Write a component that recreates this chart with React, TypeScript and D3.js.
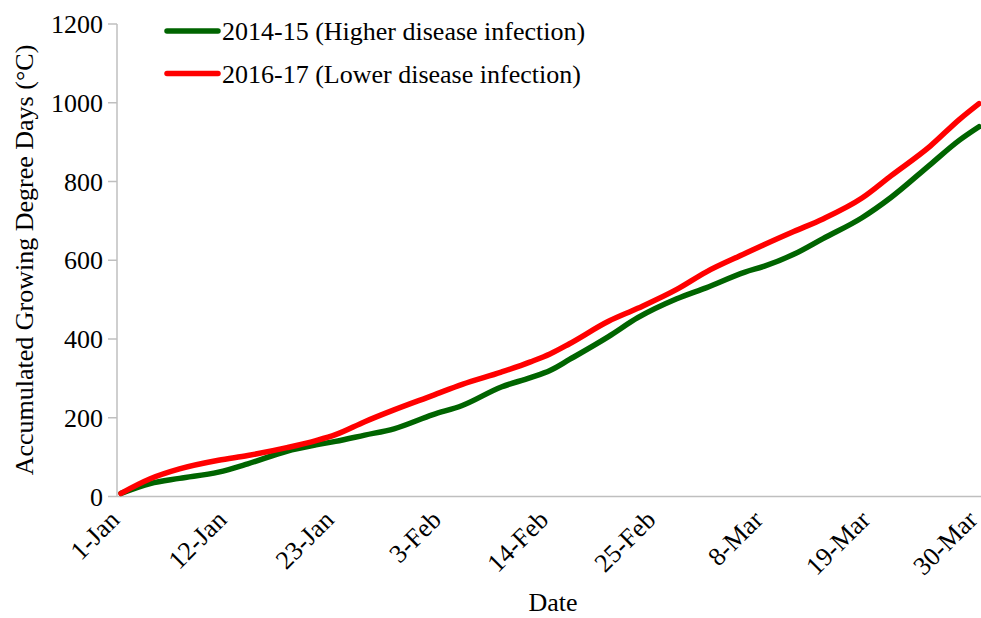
import React from "react";
import * as d3 from "d3";

// Day offsets from 1 January at which the accumulated GDD values were sampled
const sampleDays = [0, 3, 6, 10, 13, 17, 20, 22, 25, 28, 32, 35, 39, 42, 44, 46, 50, 53, 57, 60, 64, 66, 69, 72, 76, 79, 83, 86, 88];

// Accumulated growing degree days (°C), season 2014-15
const gdd2014 = [8, 33, 46, 62, 83, 115, 131, 140, 156, 172, 208, 231, 278, 302, 320, 348, 406, 454, 502, 530, 570, 585, 615, 655, 708, 760, 843, 905, 939];

// Accumulated growing degree days (°C), season 2016-17
const gdd2016 = [8, 45, 70, 92, 104, 124, 142, 157, 190, 220, 257, 285, 316, 342, 362, 388, 445, 478, 526, 570, 617, 640, 673, 705, 758, 815, 890, 958, 998];

// Category labels on the date axis, every 11 days
const tickDays = [0, 11, 22, 33, 44, 55, 66, 77, 88];
const tickLabels = ["1-Jan", "12-Jan", "23-Jan", "3-Feb", "14-Feb", "25-Feb", "8-Mar", "19-Mar", "30-Mar"];

const yTicks = [0, 200, 400, 600, 800, 1000, 1200];

const seriesNames = ["2014-15 (Higher disease infection)", "2016-17 (Lower disease infection)"];
const seriesColors = ["#006400", "#ff0000"];

const W = 981;
const H = 618;
const FONT = "'Liberation Serif', 'Times New Roman', serif";
const FS = 26;
const AXIS = "#bfbfbf";

export default function App() {
  const x = d3.scaleLinear().domain([0, 88]).range([121, 979]);
  const y = d3.scaleLinear().domain([0, 1200]).range([496.5, 24]);

  const line = d3
    .line<number>()
    .x((_, i) => x(sampleDays[i]))
    .y((v) => y(v))
    .curve(d3.curveMonotoneX);

  const series = [gdd2014, gdd2016];

  return (
    <svg
      width={W}
      height={H}
      style={{ position: "absolute", left: 0, top: 0, background: "#fff" }}
      fontFamily={FONT}
    >
      {/* y axis */}
      <line x1={117} x2={117} y1={y(1200)} y2={y(0)} stroke={AXIS} strokeWidth={1.5} />
      {yTicks.map((t) => (
        <g key={t}>
          <line x1={108} x2={117} y1={y(t)} y2={y(t)} stroke={AXIS} strokeWidth={1.5} />
          <text x={103} y={y(t)} dy="0.35em" textAnchor="end" fontSize={FS} fill="#000">
            {t}
          </text>
        </g>
      ))}

      {/* x axis */}
      <line x1={117} x2={981} y1={y(0)} y2={y(0)} stroke={AXIS} strokeWidth={1.5} />
      {tickDays.map((d, i) => (
        <text
          key={d}
          transform={`translate(${x(d) - 13},${y(0) + 12}) rotate(-45)`}
          textAnchor="end"
          dy="0.7em"
          fontSize={FS}
          fill="#000"
        >
          {tickLabels[i]}
        </text>
      ))}

      {/* series */}
      {series.map((s, i) => (
        <path
          key={i}
          d={line(s) || ""}
          fill="none"
          stroke={seriesColors[i]}
          strokeWidth={5.5}
          strokeLinecap="round"
          strokeLinejoin="round"
        />
      ))}

      {/* legend */}
      {seriesNames.map((n, i) => (
        <g key={n} transform={`translate(0,${31 + i * 42.5})`}>
          <line x1={167} x2={218} y1={0} y2={0} stroke={seriesColors[i]} strokeWidth={5.5} strokeLinecap="round" />
          <text x={222} y={0} dy="0.35em" fontSize={FS} fill="#000">
            {n}
          </text>
        </g>
      ))}

      {/* axis titles */}
      <text
        transform={`translate(33,260) rotate(-90)`}
        textAnchor="middle"
        fontSize={FS}
        fill="#000"
      >
        Accumulated Growing Degree Days (°C)
      </text>
      <text x={553} y={611} textAnchor="middle" fontSize={FS} fill="#000">
        Date
      </text>
    </svg>
  );
}
